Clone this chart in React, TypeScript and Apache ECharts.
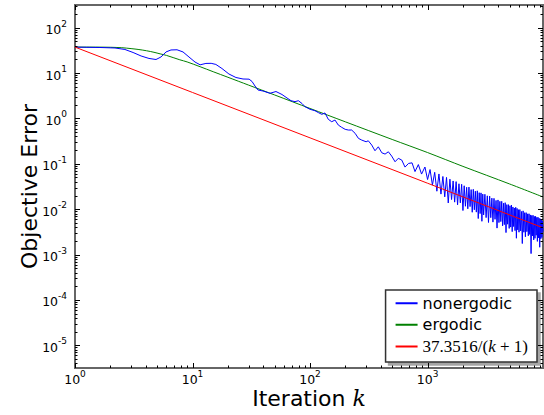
import React, { useEffect, useRef } from 'react';
import * as echarts from 'echarts';

const FONT = 'DejaVu Sans';
const RED_NAME = '37.3516/(k+1)';

const X_MIN = 1;
const X_MAX = 9600;
const Y_MIN = 3.1623e-6;
const Y_MAX = 316.23;

const xMajorTicks = [1, 10, 100, 1000];
const yMajorTicks = [1e-5, 1e-4, 1e-3, 1e-2, 1e-1, 1, 10, 100];

// red reference line 37.3516/(k+1)
const redPoints: [number, number][] = [
  [1, 37.3516], [10, 3.73516], [100, 0.373516], [1000, 0.0373516], [9600, 0.003891],
];

// ergodic
const greenPoints: [number, number][] = [
  [1, 37.35], [1.5, 37.3], [2, 37.0], [2.5, 36.2], [3, 34.6], [3.5, 33.0], [4.07, 31.0],
  [4.7, 28.7], [5.3, 26.5], [6.0, 24.5], [7.8, 19.6], [9, 17.6], [11.6, 13.8], [15, 10.7],
  [20, 8.08], [30, 5.43], [50, 3.29], [100, 1.66], [200, 0.841], [500, 0.344], [1000, 0.177],
  [2000, 0.0878], [5000, 0.0359], [9600, 0.0186],
];

// nonergodic, early part
const blueEarly: [number, number][] = [
  [1, 37.35], [1.63, 36.6], [2.19, 35.7], [2.66, 33.1], [3.12, 28.4], [3.65, 23.8], [4.26, 21.0],
  [4.89, 19.9], [5.39, 22.6], [5.95, 29.2], [6.56, 32.3], [7.38, 32.6], [8.3, 29.2], [9.33, 22.6],
  [10.5, 17.5], [11.6, 15.2], [13.0, 16.3], [14.4, 16.4], [15.8, 15.5], [17.8, 12.6], [20.4, 9.54],
  [23.4, 7.99], [26.9, 7.4], [30.3, 7.34], [32.1, 6.52], [34.0, 5.19], [36.1, 4.23], [39.8, 4.02],
  [45.6, 3.58], [51.3, 3.92], [57.7, 3.37], [63.7, 2.82], [68.9, 2.46], [74.5, 2.34], [79.5, 2.46],
  [85.5, 2.13], [90.7, 1.81], [100, 1.59], [110, 1.48], [118, 1.34], [126, 1.23], [134, 1.32],
  [143, 0.955], [153, 0.846], [163, 0.922], [174, 0.715], [186, 0.636], [199, 0.575], [212, 0.555],
  [226, 0.555], [242, 0.469], [258, 0.364], [275, 0.334], [300, 0.306], [313, 0.322], [335, 0.259],
  [357, 0.194], [381, 0.237], [408, 0.175], [435, 0.164], [464, 0.184], [495, 0.148], [529, 0.111],
  [564, 0.132], [603, 0.121], [643, 0.0847], [689, 0.102], [738, 0.105], [782, 0.0674],
  [835, 0.0962], [889, 0.0594],
];

// nonergodic, dense oscillating part
const blueDense: [number, number][] = [
  [950, 0.085], [1000, 0.045], [1050, 0.0747], [1100, 0.034], [1150, 0.065], [1200, 0.0249],
  [1250, 0.0598], [1300, 0.0215], [1350, 0.0526], [1400, 0.0187], [1450, 0.0502], [1500, 0.0137],
  [1550, 0.0458], [1600, 0.0163], [1650, 0.0419], [1700, 0.0143], [1750, 0.0405], [1800, 0.0125],
  [1850, 0.0363], [1900, 0.0138], [1950, 0.0354], [2000, 0.00934], [2050, 0.0328], [2100, 0.0116],
  [2150, 0.0304], [2200, 0.0102], [2250, 0.0307], [2300, 0.0114], [2350, 0.027], [2400, 0.00856],
  [2450, 0.0274], [2500, 0.00971], [2550, 0.0249], [2600, 0.00862], [2650, 0.0254], [2700, 0.00622],
  [2750, 0.0231], [2800, 0.008], [2850, 0.0229], [2900, 0.00541], [2950, 0.0215], [3000, 0.00747],
  [3075, 0.0213], [3150, 0.00652], [3225, 0.0197], [3300, 0.00509], [3375, 0.0194], [3450, 0.0065],
  [3525, 0.0175], [3600, 0.00519], [3675, 0.0173], [3750, 0.00598], [3825, 0.0156], [3900, 0.00383],
  [3975, 0.016], [4050, 0.00507], [4125, 0.0149], [4200, 0.00533], [4275, 0.0149], [4350, 0.00429],
  [4425, 0.0135], [4500, 0.00457], [4575, 0.0139], [4650, 0.00305], [4725, 0.0126], [4800, 0.00467],
  [4875, 0.0126], [4950, 0.00377], [5025, 0.0119], [5100, 0.00403], [5175, 0.0123], [5250, 0.0032],
  [5325, 0.0112], [5400, 0.00415], [5475, 0.0106], [5550, 0.00337], [5625, 0.011], [5700, 0.00229],
  [5775, 0.0104], [5850, 0.00351], [5925, 0.00977], [6000, 0.00311], [6100, 0.0098], [6200, 0.00331],
  [6300, 0.00889], [6400, 0.00175], [6500, 0.00919], [6600, 0.00311], [6700, 0.00836], [6800, 0.00247],
  [6900, 0.00839], [7000, 0.0032], [7100, 0.00789], [7200, 0.00259], [7300, 0.00793], [7400, 0.00278],
  [7500, 0.00747], [7600, 0.00105], [7700, 0.00728], [7800, 0.00257], [7900, 0.00733], [8000, 0.0021],
  [8100, 0.00692], [8200, 0.00228], [8300, 0.00698], [8400, 0.00267], [8500, 0.00659], [8600, 0.00195],
  [8700, 0.00665], [8800, 0.00233], [8900, 0.0063], [9000, 0.00145], [9100, 0.00615], [9200, 0.00223],
  [9300, 0.00603], [9400, 0.00238], [9500, 0.0055], [9600, 0.0032],
];

function minorTicks(majors: number[], lo: number, hi: number): number[] {
  const out: number[] = [];
  const decades = [majors[0] / 10, ...majors];
  for (const d of decades) {
    for (let m = 2; m <= 9; m++) {
      const v = m * d;
      if (v > lo && v < hi) out.push(v);
    }
  }
  return out;
}

function isPow10(v: number) {
  const e = Math.log10(v);
  return Math.abs(e - Math.round(e)) < 1e-6;
}

function powLabel(v: number) {
  if (!isPow10(v)) return '';
  const e = Math.round(Math.log10(v));
  return '{b|10}{s|' + String(e) + '}';
}

const labelRich = {
  b: { fontFamily: FONT, fontSize: 12.5, color: '#000', lineHeight: 17, verticalAlign: 'bottom' },
  s: { fontFamily: FONT, fontSize: 9, color: '#000', lineHeight: 9, verticalAlign: 'top' },
};

function tickSeries(vals: number[], axis: 'x' | 'y', len: number) {
  return {
    type: 'custom',
    silent: true,
    clip: false,
    z: 10,
    data: vals.map((v) => (axis === 'x' ? [v, 1] : [1, v])),
    renderItem: (params: any, api: any) => {
      const cs = params.coordSys;
      const p = api.coord([api.value(0), api.value(1)]);
      const style = { stroke: '#000', lineWidth: 1 };
      if (axis === 'x') {
        const x = Math.round(p[0]) + 0.5;
        return {
          type: 'group',
          children: [
            { type: 'line', shape: { x1: x, y1: cs.y + cs.height, x2: x, y2: cs.y + cs.height - len }, style },
            { type: 'line', shape: { x1: x, y1: cs.y, x2: x, y2: cs.y + len }, style },
          ],
        };
      }
      const y = Math.round(p[1]) + 0.5;
      return {
        type: 'group',
        children: [
          { type: 'line', shape: { x1: cs.x, y1: y, x2: cs.x + len, y2: y }, style },
          { type: 'line', shape: { x1: cs.x + cs.width, y1: y, x2: cs.x + cs.width - len, y2: y }, style },
        ],
      };
    },
  };
}

export default function App() {
  const ref = useRef<HTMLDivElement>(null);
  useEffect(() => {
    if (!ref.current) return;
    const chart = echarts.init(ref.current, undefined, { renderer: 'svg' });
    const xMinor = minorTicks(xMajorTicks, X_MIN, X_MAX);
    const yMinor = minorTicks(yMajorTicks, Y_MIN, Y_MAX);
    chart.setOption({
      animation: false,
      backgroundColor: '#fff',
      grid: {
        left: 75, right: 1, top: 5, bottom: 47,
        containLabel: false,
        outerBoundsMode: 'none',
        show: true, borderColor: '#666', borderWidth: 2, backgroundColor: 'transparent',
      },
      xAxis: {
        type: 'log', logBase: 10, min: X_MIN, max: X_MAX,
        axisLine: { show: false }, axisTick: { show: false }, splitLine: { show: false },
        axisLabel: { formatter: powLabel, margin: 1, rich: labelRich, showMaxLabel: false },
        name: '{a|Iteration }{k|k}',
        nameLocation: 'middle', nameGap: 19, nameMoveOverlap: false,
        nameTextStyle: {
          rich: {
            a: { fontFamily: FONT, fontSize: 22, color: '#000' },
            k: { fontFamily: 'DejaVu Serif', fontStyle: 'italic', fontSize: 22, color: '#000' },
          },
        },
      },
      yAxis: {
        type: 'log', logBase: 10, min: Y_MIN, max: Y_MAX,
        axisLine: { show: false }, axisTick: { show: false }, splitLine: { show: false },
        axisLabel: { formatter: powLabel, margin: 8, rich: labelRich },
        name: 'Objective Error',
        nameLocation: 'middle', nameGap: 35, nameMoveOverlap: false,
        nameTextStyle: { fontFamily: FONT, fontSize: 22, color: '#000' },
      },
      legend: {
        orient: 'vertical', right: 7, bottom: 53,
        data: ['nonergodic', 'ergodic', RED_NAME],
        icon: 'rect', itemWidth: 22, itemHeight: 2, itemGap: 5, itemTextGap: 16,
        padding: [5, 9, 7, 10],
        backgroundColor: '#fff', borderColor: '#333', borderWidth: 1.5, borderRadius: 0,
        shadowColor: 'rgba(0,0,0,0.35)', shadowOffsetX: 3, shadowOffsetY: 3, shadowBlur: 0,
        textStyle: {
          fontFamily: FONT, fontSize: 16, color: '#000', lineHeight: 16.5,
          rich: {
            m: { fontFamily: 'Liberation Serif', fontSize: 17, color: '#000', lineHeight: 16.5 },
            i: { fontFamily: 'Liberation Serif', fontStyle: 'italic', fontSize: 17, color: '#000', lineHeight: 16.5 },
          },
        },
        formatter: (name: string) =>
          name === RED_NAME ? '{m|37.3516/(}{i|k}{m| + 1)}' : name,
      },
      series: [
        {
          name: 'nonergodic', type: 'line', showSymbol: false, symbol: 'none',
          data: [...blueEarly, ...blueDense],
          lineStyle: { color: '#0000ff', width: 1 }, itemStyle: { color: '#0000ff' }, z: 3,
        },
        {
          name: 'ergodic', type: 'line', showSymbol: false, symbol: 'none', smooth: 0.3,
          data: greenPoints,
          lineStyle: { color: '#008000', width: 1 }, itemStyle: { color: '#008000' }, z: 2,
        },
        {
          name: RED_NAME, type: 'line', showSymbol: false, symbol: 'none',
          data: redPoints,
          lineStyle: { color: '#ff0000', width: 1 }, itemStyle: { color: '#ff0000' }, z: 4,
        },
        tickSeries(xMajorTicks, 'x', 5),
        tickSeries(xMinor, 'x', 2.5),
        tickSeries(yMajorTicks, 'y', 5),
        tickSeries(yMinor, 'y', 2.5),
      ],
    });
    return () => chart.dispose();
  }, []);
  return (
    <div
      ref={ref}
      style={{ position: 'fixed', left: 0, top: 0, width: 544, height: 415, background: '#fff' }}
    />
  );
}
